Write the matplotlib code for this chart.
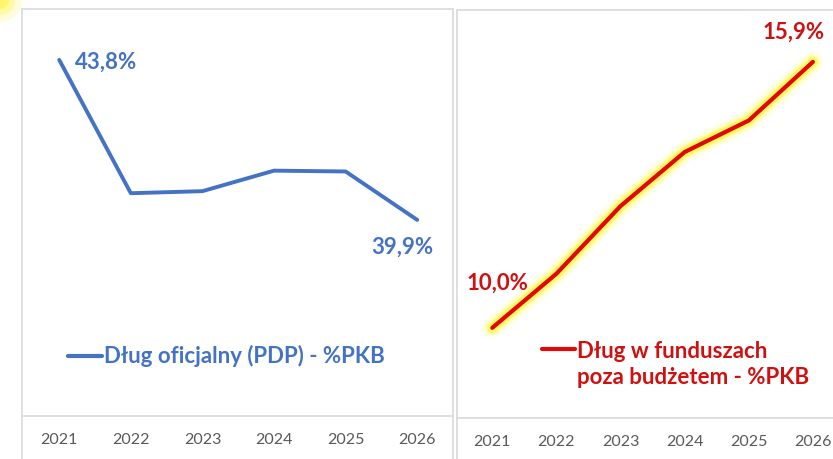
import matplotlib
matplotlib.use("Agg")
import matplotlib.pyplot as plt
from matplotlib.lines import Line2D
from matplotlib.patches import Rectangle, Ellipse
import matplotlib.patheffects as pe

years = ["2021", "2022", "2023", "2024", "2025", "2026"]
official_debt = [43.8, 40.55, 40.6, 41.1, 41.08, 39.9]
off_budget_debt = [10.0, 11.2, 12.7, 13.9, 14.6, 15.9]
label_official = "Dług oficjalny (PDP) - %PKB"
label_off_budget = "Dług w funduszach\npoza budżetem - %PKB"

W, H = 833, 459
BLUE = "#4472C4"
RED = "#E00808"
RED_TXT = "#D01010"
GRID = "#D9D9D9"
TICK = "#595959"
FONT = "Lato"

plt.rcParams['font.family'] = [FONT, 'DejaVu Sans']

fig = plt.figure(figsize=(W / 100, H / 100), dpi=100)
fig.patch.set_facecolor("white")


def fx(x):
    return x / W


def fy(y):
    return 1 - y / H


def add_axes_px(x0, y0, x1, y1):
    return fig.add_axes([fx(x0), fy(y1), (x1 - x0) / W, (y1 - y0) / H])


# decorative yellow glow in the top-left corner
for r, a in [(22, 0.15), (15, 0.25), (9, 0.35)]:
    fig.add_artist(Ellipse((fx(0), fy(0)), 2 * r / W, 2 * r / H, transform=fig.transFigure,
                           facecolor="#FFF200", edgecolor="none", alpha=a))

# outer chart frames
for (x0, y0, x1) in [(22, 9, 453), (457, 10, 850)]:
    fig.add_artist(Rectangle((fx(x0), fy(475)), (x1 - x0) / W, (475 - y0) / H,
                             transform=fig.transFigure, fill=False,
                             edgecolor=GRID, linewidth=1.2, clip_on=False))

xs = list(range(len(years)))

# ---- left panel
axL = add_axes_px(22, 9, 453, 416)
axL.plot(xs, official_debt, color=BLUE, lw=2.8, solid_capstyle='round',
         solid_joinstyle='round')
axL.set_xlim(-0.52, 5.5)
axL.set_ylim(35.12, 45.04)

# ---- right panel
axR = add_axes_px(457, 10, 845, 418)
glow = [pe.Stroke(linewidth=15, foreground="#FFFF40", alpha=0.12),
        pe.Stroke(linewidth=11, foreground="#FFFF30", alpha=0.22),
        pe.Stroke(linewidth=7.5, foreground="#FFF000", alpha=0.45),
        pe.Normal()]
axR.plot(xs, off_budget_debt, color=RED, lw=3.0, solid_capstyle='round',
         solid_joinstyle='round', path_effects=glow)
axR.set_xlim(-0.55, 5.5)
axR.set_ylim(8.0, 17.05)

for ax in (axL, axR):
    ax.set_facecolor("none")
    for s in ("top", "left", "right"):
        ax.spines[s].set_visible(False)
    ax.spines["bottom"].set_color(GRID)
    ax.spines["bottom"].set_linewidth(1.2)
    ax.set_yticks([])
    ax.set_xticks(xs)
    ax.set_xticklabels(years, fontsize=11.5, color=TICK, family=[FONT, 'DejaVu Sans'])
    ax.tick_params(axis='x', length=0, pad=12)

LBL = 16
# data labels
axL.annotate("43,8%", (0, official_debt[0]), xytext=(11, -1.5), textcoords="offset points",
             ha="left", va="center", color=BLUE, fontsize=LBL, fontweight="bold")
axL.annotate("39,9%", (5, official_debt[-1]), xytext=(11.5, -19.4), textcoords="offset points",
             ha="right", va="center", color=BLUE, fontsize=LBL, fontweight="bold")
axR.annotate("10,0%", (0, off_budget_debt[0]), xytext=(-18.7, 32.4), textcoords="offset points",
             ha="left", va="center", color=RED_TXT, fontsize=LBL, fontweight="bold")
axR.annotate("15,9%", (5, off_budget_debt[-1]), xytext=(8.6, 21.6), textcoords="offset points",
             ha="right", va="center", color=RED_TXT, fontsize=LBL, fontweight="bold")

# legends
fig.add_artist(Line2D([fx(68), fx(102)], [fy(356), fy(356)], transform=fig.transFigure,
                      color=BLUE, lw=3.0, solid_capstyle='round'))
fig.text(fx(104), fy(356), label_official, ha="left", va="center", color=BLUE,
         fontsize=16, fontweight="bold")

fig.add_artist(Line2D([fx(542), fx(575)], [fy(349), fy(349)], transform=fig.transFigure,
                      color=RED, lw=3.0, solid_capstyle='round'))
fig.text(fx(577), fy(364.5), label_off_budget, ha="left", va="center", color=RED_TXT,
         fontsize=16, fontweight="bold", linespacing=1.3)

fig.savefig("out.png", dpi=100, facecolor="white")
